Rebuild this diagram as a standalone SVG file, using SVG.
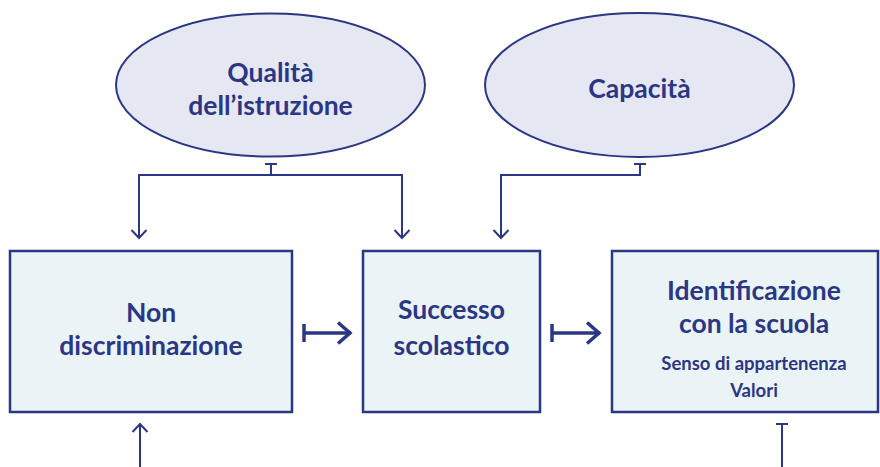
<svg xmlns="http://www.w3.org/2000/svg" width="880" height="467" viewBox="0 0 880 467">
<style>
.ell{fill:#e5e8f3;stroke:#2b3685;stroke-width:2}
.box{fill:#eaf4f6;stroke:#2b3685;stroke-width:2.5}
.t{font-family:Lato,"Noto Sans",sans-serif;font-weight:700;fill:#2b3685;text-anchor:middle}
.big{font-size:26.5px}
.small{font-size:18.5px}
.con{fill:none;stroke:#2b3685;stroke-width:2}
.thick{fill:none;stroke:#2b3685;stroke-width:3.5}
</style>
<defs>
<marker id="arr" markerUnits="userSpaceOnUse" viewBox="-10 -9 12 18" refX="0" refY="0" markerWidth="12" markerHeight="18" orient="auto">
<path d="M-8,-7.5 L0,0 L-8,7.5" fill="none" stroke="#2b3685" stroke-width="2"/>
</marker>
<marker id="tee" markerUnits="userSpaceOnUse" viewBox="-2 -8 4 16" refX="0" refY="0" markerWidth="4" markerHeight="16" orient="auto">
<path d="M0,-6 L0,6" fill="none" stroke="#2b3685" stroke-width="2"/>
</marker>
<marker id="arrBig" markerUnits="userSpaceOnUse" viewBox="-16 -13 18 26" refX="0" refY="0" markerWidth="18" markerHeight="26" orient="auto">
<path d="M-13,-10.5 L-1,0 L-13,10.5" fill="none" stroke="#2b3685" stroke-width="3.5"/>
</marker>
<marker id="teeBig" markerUnits="userSpaceOnUse" viewBox="-3 -12 6 24" refX="0" refY="0" markerWidth="6" markerHeight="24" orient="auto">
<path d="M0,-9 L0,9" fill="none" stroke="#2b3685" stroke-width="3.5"/>
</marker>
</defs>

<g id="connectors">
<path class="con" d="M271,164 V175 H139 V238" marker-start="url(#tee)" marker-end="url(#arr)"/>
<path class="con" d="M271,175 H402 V238" marker-end="url(#arr)"/>
<path class="con" d="M640,164 V175 H501 V238" marker-start="url(#tee)" marker-end="url(#arr)"/>
<path class="thick" d="M304,333 H351" marker-start="url(#teeBig)" marker-end="url(#arrBig)"/>
<path class="thick" d="M552,333 H600" marker-start="url(#teeBig)" marker-end="url(#arrBig)"/>
<path class="con" d="M140,467 V424" marker-end="url(#arr)"/>
<path class="con" d="M782,424 V467" marker-start="url(#tee)"/>
</g>

<g id="qualita">
<ellipse class="ell" cx="270.5" cy="85" rx="154.5" ry="71.5"/>
<text class="t big" x="270.5" y="82">Qualità</text>
<text class="t big" x="270.5" y="115">dell’istruzione</text>
</g>

<g id="capacita">
<ellipse class="ell" cx="639.5" cy="85" rx="154.5" ry="72"/>
<text class="t big" x="639.5" y="98">Capacità</text>
</g>

<g id="non-discriminazione">
<rect class="box" x="10" y="251" width="282" height="161"/>
<text class="t big" x="151" y="322">Non</text>
<text class="t big" x="151" y="355">discriminazione</text>
</g>

<g id="successo">
<rect class="box" x="363" y="251" width="177" height="161"/>
<text class="t big" x="451.5" y="319">Successo</text>
<text class="t big" x="451.5" y="355">scolastico</text>
</g>

<g id="identificazione">
<rect class="box" x="612" y="251" width="266" height="161"/>
<text class="t big" x="754" y="300">Identificazione</text>
<text class="t big" x="754" y="333">con la scuola</text>
<text class="t small" x="754" y="370">Senso di appartenenza</text>
<text class="t small" x="754" y="397">Valori</text>
</g>
</svg>
